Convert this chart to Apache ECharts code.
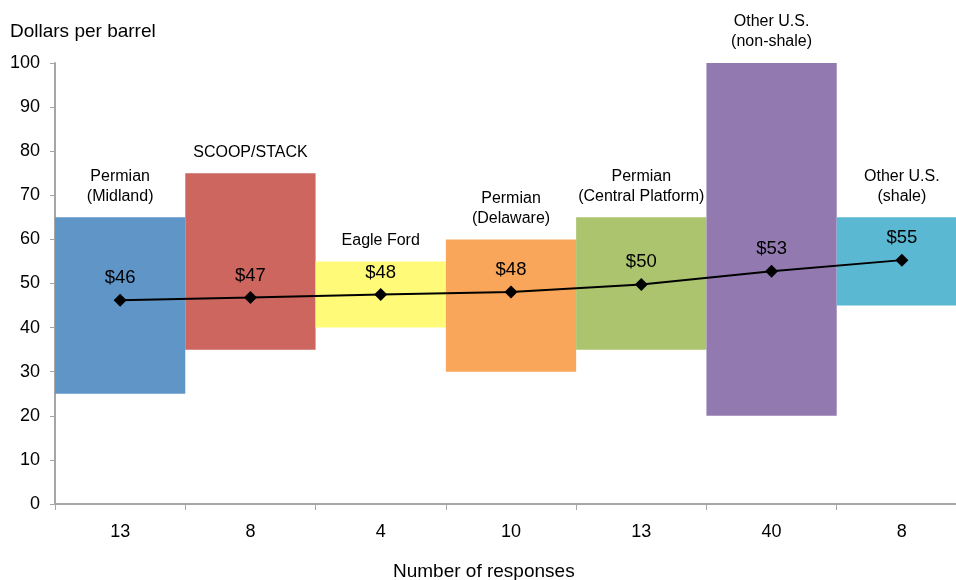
<!DOCTYPE html>
<html>
<head>
<meta charset="utf-8">
<script src="https://cdn.jsdelivr.net/npm/echarts@6/dist/echarts.min.js"></script>
<style>
  html, body { margin: 0; padding: 0; background: #fff; overflow: hidden; }
  #myChart { width: 967px; height: 580px; }
</style>
</head>
<body>
<div id="myChart"></div>
<script>
// regions (bar labels) and responses (axis labels)
var regions = ['Permian\n(Midland)', 'SCOOP/STACK', 'Eagle Ford', 'Permian\n(Delaware)',
    'Permian\n(Central Platform)', 'Other U.S.\n(non-shale)', 'Other U.S.\n(shale)'];
var responses = ['13', '8', '4', '10', '13', '40', '8'];
var lows = [25, 35, 40, 30, 35, 20, 45];
var highs = [65, 75, 55, 60, 65, 100, 65];
var averages = [46.2, 46.8, 47.5, 48.1, 49.8, 52.8, 55.3];
var colors = ['#6095c8', '#cc665f', '#fffb78', '#f9a65a', '#abc46d', '#927ab0', '#5bb8d2'];

var font = 'Liberation Sans, Arial, sans-serif';

var myChart = echarts.init(document.getElementById('myChart'));

// visible part of each floating bar = high - low
var spans = [];
for (var i = 0; i < highs.length; i++) {
    spans.push({
        value: highs[i] - lows[i],
        itemStyle: { color: colors[i] }
    });
}

var option = {
    animation: false,
    textStyle: { fontFamily: font },
    grid: { left: 55, right: 0, top: 63, bottom: 76, containLabel: false },
    graphic: [{
        type: 'text', left: 10, top: 22,
        style: { text: 'Dollars per barrel', fontSize: 19, fontFamily: font, fill: '#000' }
    }, {
        type: 'text', left: 393, top: 562,
        style: { text: 'Number of responses', fontSize: 19, fontFamily: font, fill: '#000' }
    }],
    xAxis: {
        type: 'category',
        data: regions,
        axisLine: { lineStyle: { color: '#a6a6a6', width: 2 } },
        axisTick: { show: true, length: 6, lineStyle: { color: '#a6a6a6' } },
        axisLabel: {
            margin: 19, fontSize: 18, color: '#000', fontFamily: font,
            formatter: function(v, idx) { return responses[idx]; }
        }
    },
    yAxis: {
        type: 'value',
        min: 0, max: 100, interval: 10,
        axisLine: { show: true, lineStyle: { color: '#a6a6a6', width: 2 } },
        axisTick: { show: true, length: 5, lineStyle: { color: '#a6a6a6' } },
        splitLine: { show: false },
        axisLabel: { margin: 15, fontSize: 18, color: '#000', fontFamily: font }
    },
    series: [{
        name: 'base',
        type: 'bar',
        stack: 'range',
        barCategoryGap: 0,
        itemStyle: { color: 'transparent' },
        data: lows,
        silent: true
    }, {
        name: 'range',
        type: 'bar',
        stack: 'range',
        barCategoryGap: 0,
        data: spans,
        label: {
            show: true,
            position: 'top',
            distance: 11,
            fontSize: 16,
            lineHeight: 20,
            color: '#000',
            fontFamily: font,
            formatter: function(p) { return regions[p.dataIndex]; }
        }
    }, {
        name: 'average',
        type: 'line',
        data: averages,
        symbol: 'diamond',
        symbolSize: 13,
        lineStyle: { color: '#000', width: 2 },
        itemStyle: { color: '#000' },
        label: {
            show: true,
            position: 'top',
            distance: 6,
            fontSize: 18.5,
            color: '#000',
            fontFamily: font,
            formatter: function(p) { return '$' + Math.round(p.value); }
        },
        z: 5
    }]
};
myChart.setOption(option);
</script>
</body>
</html>
